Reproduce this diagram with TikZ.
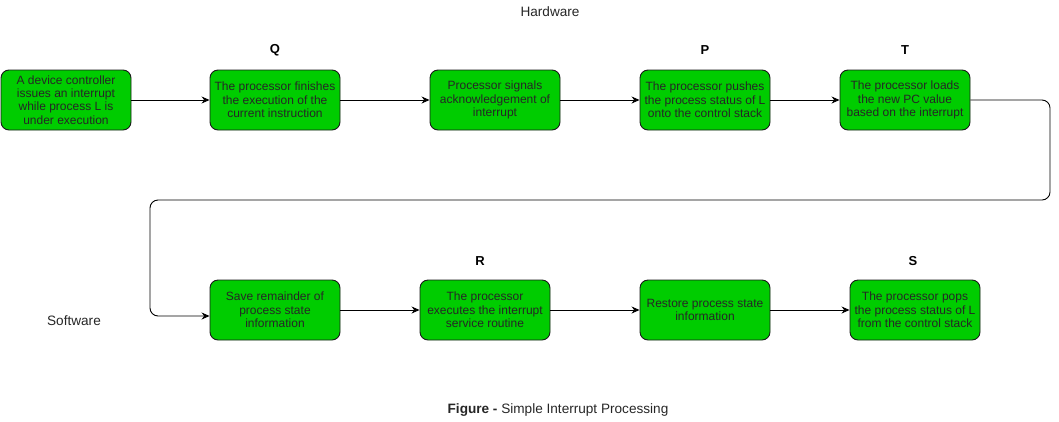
\documentclass[tikz,border=0pt]{standalone}
\usepackage{fontspec}
\setmainfont{Liberation Sans}
\usetikzlibrary{arrows.meta,calc}
\definecolor{boxgreen}{HTML}{00CC00}
\definecolor{boxline}{HTML}{1A1A1A}
\begin{document}
\begin{tikzpicture}[x=1pt,y=-1pt,
  stepbox/.style={draw=boxline,line width=0.9pt,fill=boxgreen,rounded corners=8pt,
    minimum width=130pt,minimum height=60pt,inner sep=0pt,align=center,
    font=\fontsize{12}{13.4}\selectfont,text=black!85},
  lbl/.style={font=\fontsize{13}{15}\selectfont\bfseries},
  plain/.style={font=\fontsize{13.6}{16}\selectfont,text=black!85},
  conn/.style={draw=black,line width=0.9pt,-{Stealth[length=8pt,width=7pt]}}]
\useasboundingbox (0,0) rectangle (1059,421);
\node[plain] (hw) at (550,12) {Hardware};
\node[plain] (sw) at (74,321) {Software};
\node[plain] (cap) at (558,410) {\textbf{Figure -} Simple Interrupt Processing};
\node[stepbox] (b1) at (66,100) {A device controller\\issues an interrupt\\while process L is\\under execution};
\node[stepbox] (b2) at (275,100) {The processor finishes\\the execution of the\\current instruction};
\node[stepbox] (b3) at (495,100) {Processor signals\\acknowledgement of\\interrupt};
\node[stepbox] (b4) at (705,100) {The processor pushes\\the process status of L\\onto the control stack};
\node[stepbox] (b5) at (905,100) {The processor loads\\the new PC value\\based on the interrupt};
\node[stepbox] (b6) at (275,310) {Save remainder of\\process state\\information};
\node[stepbox] (b7) at (485,310) {The processor\\executes the interrupt\\service routine};
\node[stepbox] (b8) at (705,310) {Restore process state\\information};
\node[stepbox] (b9) at (915,310) {The processor pops\\the process status of L\\from the control stack};
\node[lbl] (lq) at (275,50) {Q};
\node[lbl] (lp) at (705,50) {P};
\node[lbl] (lt) at (905,50) {T};
\node[lbl] (lr) at (480,261) {R};
\node[lbl] (ls) at (913,261) {S};
\coordinate (w1) at (1050,100);
\coordinate (w2) at (1050,200);
\coordinate (w3) at (150,200);
\coordinate (w4) at (150,316);
\draw[conn] (b1) -- (b2);
\draw[conn] (b2) -- (b3);
\draw[conn] (b3) -- (b4);
\draw[conn] (b4) -- (b5);
\draw[conn,rounded corners=8pt] (b5.east) -- (w1) -- (w2) -- (w3) -- (w4) -- ([yshift=-6pt]b6.west);
\draw[conn] (b6) -- (b7);
\draw[conn] (b7) -- (b8);
\draw[conn] (b8) -- (b9);
\end{tikzpicture}
\end{document}
